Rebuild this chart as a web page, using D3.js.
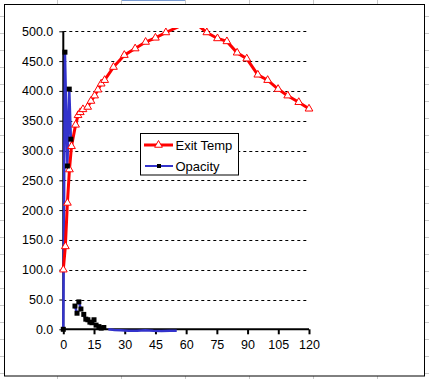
<!DOCTYPE html>
<html><head><meta charset="utf-8">
<script src="https://cdn.jsdelivr.net/npm/d3@7/dist/d3.min.js"></script>
<style>body{margin:0;background:#fff}svg{display:block}</style>
</head><body>
<script>
// ---- data ----
const exitTime = [0,1,2,3,4,6,7.2,8.3,9.6,11.9,13.5,15.3,16.9,18.5,20.2,24.5,29.8,35.1,40.2,45,50.1,56.5,61.5,66.5,70.1,75.3,79.9,84.9,89.6,95,99.8,104.9,109.6,115,120];
const exitTemp = [100,139,212,268,307,343,359,364,369,373,383,392,402,412,418,440,460,471,482,489,498,508,516,508,498,488,483,464,454,427,418,403,392,381,370];
// null marks a blank cell (gap in the line)
const opacityTime = [0,0.8,2,2.9,3.7,null,5.7,6.7,null,7.6,8.6,null,10,11,null,12,13,null,14,15,null,16,17.4,null,18.5,19.8];
const opacityVal  = [0,465,274,403,319,null,39,27,null,46,34,null,25,17,null,16,12,null,11,16,null,7,4.5,null,2,3];
const opacityTailTime = [22,25,28,32,36,40,44,48,52,55.4];
const opacityTailVal  = [0,-1,-1.5,-2.5,-2.5,-1.5,-2.5,-3,-2.5,-2.5];
const yTicks = [0,50,100,150,200,250,300,350,400,450,500];
const xTicks = [0,15,30,45,60,75,90,105,120];
const seriesNames = ["Exit Temp","Opacity"];

const W=429,H=379;
const svg=d3.select("body").append("svg").attr("width",W).attr("height",H);

// spreadsheet grid behind chart
const sheet=svg.append("g").attr("stroke","#c8c8c8").attr("stroke-width",1);
d3.range(57,W,64).forEach(x=>sheet.append("line").attr("x1",x+0.5).attr("x2",x+0.5).attr("y1",0).attr("y2",H));
d3.range(16,H,17).forEach(y=>sheet.append("line").attr("x1",0).attr("x2",W).attr("y1",y+0.5).attr("y2",y+0.5));
svg.append("line").attr("x1",122).attr("x2",185).attr("y1",0.5).attr("y2",0.5).attr("stroke","#7a9cd3").attr("stroke-width",1);

// chart area
svg.append("rect").attr("x",4.5).attr("y",4.5).attr("width",420).attr("height",371.5)
  .attr("fill","#fff").attr("stroke","#000").attr("stroke-width",1);

const x=d3.scaleLinear().domain([0,120]).range([63.3,309]);
const y=d3.scaleLinear().domain([0,500]).range([329.3,31.3]);
const font="Liberation Sans, Arial, sans-serif";

// gridlines
svg.append("g").selectAll("line").data(yTicks.filter(d=>d>0)).join("line")
  .attr("x1",x(0)).attr("x2",x(120)).attr("y1",d=>Math.round(y(d))+0.5).attr("y2",d=>Math.round(y(d))+0.5)
  .attr("stroke","#000").attr("stroke-width",1).attr("stroke-dasharray","3,3");

// y axis
const yAxis=d3.axisLeft(y).tickValues(yTicks).tickFormat(d3.format(".1f")).tickSize(4).tickPadding(6);
const gy=svg.append("g").attr("transform",`translate(${x(0)},0)`).call(yAxis);
gy.select(".domain").attr("stroke-width",2).attr("d",`M0,${y(500)}V${y(0)}`);
gy.selectAll(".tick line").attr("stroke-width",1);
gy.selectAll("text").attr("font-family",font).attr("font-size",12.5).attr("fill","#000");

// x axis
const xAxis=d3.axisBottom(x).tickValues(xTicks).tickSize(5).tickPadding(6);
const gx=svg.append("g").attr("transform",`translate(0,${y(0)})`).call(xAxis);
gx.select(".domain").attr("stroke-width",2).attr("d",`M${x(0)},0H${x(120)}`);
gx.selectAll(".tick line").attr("stroke-width",2);
gx.selectAll("text").attr("font-family",font).attr("font-size",12.5).attr("fill","#000");

// clip
svg.append("clipPath").attr("id","clip").append("rect")
  .attr("x",x(0)-4).attr("y",28).attr("width",x(120)-x(0)+10).attr("height",y(0)-28+8);
const plot=svg.append("g").attr("clip-path","url(#clip)");

const opData=opacityTime.map((t,i)=>({t,v:opacityVal[i]}));
const tailData=opacityTailTime.map((t,i)=>({t,v:opacityTailVal[i]}));
const exData=exitTime.map((t,i)=>({t,v:exitTemp[i]}));

const line=d3.line().defined(d=>d.t!==null&&d.v!==null).x(d=>x(d.t)).y(d=>y(d.v));

plot.append("path").datum(tailData).attr("d",line).attr("fill","none").attr("stroke","#3333cc").attr("stroke-width",2.5);
plot.append("path").datum(opData).attr("d",line).attr("fill","none").attr("stroke","#3333cc").attr("stroke-width",2.5);
plot.append("path").datum(exData).attr("d",line).attr("fill","none").attr("stroke","#ff0000").attr("stroke-width",3);

const tri=d3.symbol().type(d3.symbolTriangle).size(26);
plot.selectAll(".tri").data(exData.filter(d=>y(d.v)>=27)).join("path")
  .attr("d",tri).attr("transform",d=>`translate(${x(d.t)},${y(d.v)})`)
  .attr("fill","#fff").attr("stroke","#ff0000").attr("stroke-width",1);
plot.selectAll(".sq").data(opData.filter(d=>d.t!==null)).join("rect")
  .attr("x",d=>x(d.t)-2.5).attr("y",d=>y(d.v)-2.5).attr("width",5).attr("height",5)
  .attr("fill","#000");

// legend
const lg=svg.append("g");
lg.append("rect").attr("x",140.5).attr("y",133.5).attr("width",98).attr("height",41.5)
  .attr("fill","#fff").attr("stroke","#000").attr("stroke-width",1);
const ly=[145,166];
lg.append("line").attr("x1",144).attr("x2",173).attr("y1",ly[0]).attr("y2",ly[0]).attr("stroke","#ff0000").attr("stroke-width",3);
lg.append("path").attr("d",tri).attr("transform",`translate(158.5,${ly[0]})`).attr("fill","#fff").attr("stroke","#ff0000");
lg.append("line").attr("x1",145).attr("x2",173).attr("y1",ly[1]).attr("y2",ly[1]).attr("stroke","#3333cc").attr("stroke-width",2);
lg.append("rect").attr("x",157).attr("y",ly[1]-2).attr("width",4).attr("height",4).attr("fill","#000");
lg.selectAll("text").data(seriesNames).join("text")
  .attr("x",175.5).attr("y",(d,i)=>ly[i]).attr("dy","0.36em")
  .attr("font-family",font).attr("font-size",13).attr("fill","#000").text(d=>d);
</script>
</body></html>
